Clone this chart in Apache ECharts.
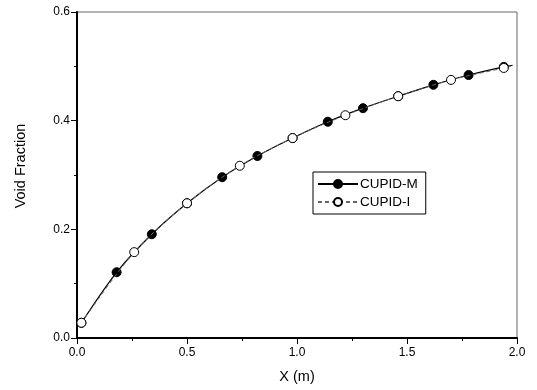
<!DOCTYPE html>
<html><head><meta charset="utf-8">
<script src="https://cdn.jsdelivr.net/npm/echarts@6/dist/echarts.min.js"></script>
<style>html,body{margin:0;padding:0;background:#fff}#c{width:537px;height:390px}</style>
</head><body><div id="c"></div>
<script>
var mX = [0.02,0.18,0.34,0.50,0.66,0.82,0.98,1.14,1.30,1.46,1.62,1.78,1.94,1.98];
var mY = [0.028,0.121,0.191,0.248,0.296,0.335,0.368,0.398,0.423,0.445,0.466,0.484,0.499,0.502];
var iX = [0.02,0.26,0.50,0.74,0.98,1.22,1.46,1.70,1.94,1.98];
var iY = [0.028,0.158,0.248,0.317,0.368,0.410,0.445,0.475,0.497,0.501];
var xTicks = [0.0,0.5,1.0,1.5,2.0];
var yTicks = [0.0,0.2,0.4,0.6];
var seriesNames = ['CUPID-M','CUPID-I'];

function build(xs, ys){
  return xs.map(function(x,k){
    var p = {value:[x, ys[k]]};
    if (k === xs.length-1) p.symbol = 'none';
    return p;
  });
}
var font = 'Liberation Sans, Arial, sans-serif';
var chart = echarts.init(document.getElementById('c'), null, {renderer:'canvas'});
chart.setOption({
  animation:false,
  grid:{left:77,right:20,top:12,bottom:52,show:true,borderColor:'#666',borderWidth:1},
  legend:{
    orient:'vertical', left:313, top:172, width:122,
    borderColor:'#000', borderWidth:1, borderRadius:0,
    padding:[5,8,5,4], itemWidth:40, itemHeight:10, itemGap:4,
    textStyle:{fontFamily:font,fontSize:13.5,color:'#000',padding:[0,0,0,-3]},
    data:seriesNames
  },
  xAxis:{
    type:'value', min:xTicks[0], max:xTicks[xTicks.length-1], interval:0.5,
    name:'X (m)', nameLocation:'middle', nameGap:31,
    nameTextStyle:{fontFamily:font,fontSize:14.5,color:'#000'},
    axisLine:{lineStyle:{color:'#000',width:2}},
    axisTick:{show:true,length:6,lineStyle:{color:'#000',width:1}},
    minorTick:{show:true,splitNumber:2,length:3,lineStyle:{color:'#000'}},
    splitLine:{show:false},
    axisLabel:{fontFamily:font,fontSize:12,color:'#000',margin:9,formatter:function(v){return v.toFixed(1);}}
  },
  yAxis:{
    type:'value', min:yTicks[0], max:yTicks[yTicks.length-1], interval:0.2,
    name:'Void Fraction', nameLocation:'middle', nameGap:49, nameRotate:90,
    nameTextStyle:{fontFamily:font,fontSize:14.5,color:'#000',padding:[0,0,0,18]},
    axisLine:{lineStyle:{color:'#000',width:2}},
    axisTick:{show:true,length:6,lineStyle:{color:'#000',width:1}},
    minorTick:{show:true,splitNumber:2,length:3,lineStyle:{color:'#000'}},
    splitLine:{show:false},
    axisLabel:{fontFamily:font,fontSize:12,color:'#000',margin:7,formatter:function(v){return v.toFixed(1);}}
  },
  series:[
    {name:seriesNames[0], type:'line', smooth:0.3, data:build(mX,mY),
     symbol:'circle', symbolSize:9, z:2,
     lineStyle:{color:'#000',width:1.2,type:'solid'},
     itemStyle:{color:'#000',borderColor:'#000',borderWidth:1}},
    {name:seriesNames[1], type:'line', smooth:0.3, data:build(iX,iY),
     symbol:'circle', symbolSize:9, z:3,
     lineStyle:{color:'#666',width:1,type:[4,3]},
     itemStyle:{color:'#fff',borderColor:'#000',borderWidth:1}}
  ]
});
</script></body></html>
